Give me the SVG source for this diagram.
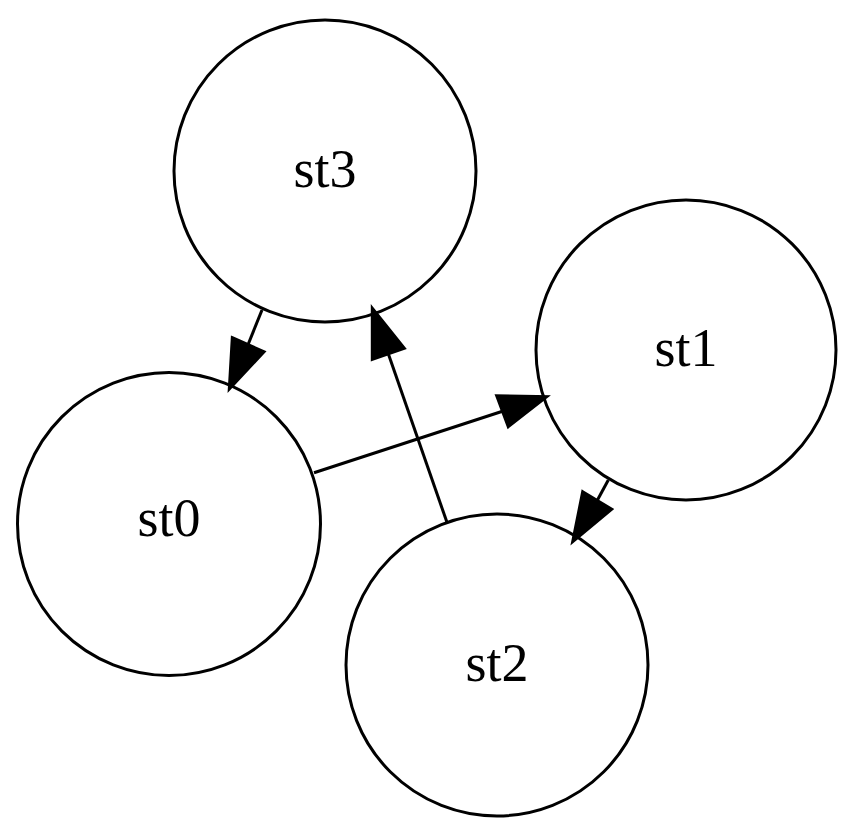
<svg xmlns="http://www.w3.org/2000/svg" width="858" height="838" viewBox="0 0 858 838">
  <style>
    .node circle { fill: none; stroke: #000; stroke-width: 3; }
    .node text { font-family: "Liberation Serif", "Times New Roman", serif; font-size: 54px; text-anchor: middle; fill: #000; }
    .edge line { stroke: #000; stroke-width: 3; }
    .edge polygon { fill: #000; stroke: #000; stroke-width: 3; }
  </style>
  <rect width="858" height="838" fill="#fff"/>

  <g id="edges">
    <!-- st3 -> st0 -->
    <g class="edge" id="e_st3_st0">
      <line x1="262" y1="310" x2="248" y2="344.7"/>
      <polygon points="232.3,337.7 264,351.7 229.3,389"/>
    </g>
    <!-- st0 -> st1 -->
    <g class="edge" id="e_st0_st1">
      <line x1="314" y1="472.7" x2="502.5" y2="411.2"/>
      <polygon points="496.7,395.7 508.3,426.7 546.7,396.7"/>
    </g>
    <!-- st2 -> st3 -->
    <g class="edge" id="e_st2_st3">
      <line x1="447.3" y1="523.3" x2="388.3" y2="353.8"/>
      <polygon points="372.3,359.3 404.3,348.3 372.3,308.3"/>
    </g>
    <!-- st1 -> st2 -->
    <g class="edge" id="e_st1_st2">
      <line x1="608.3" y1="480" x2="597.2" y2="500.5"/>
      <polygon points="582.7,491.7 611.7,509.3 572.7,541.7"/>
    </g>
  </g>

  <g class="node" id="st3">
    <circle cx="325" cy="171" r="151"/>
    <text x="325" y="187">st3</text>
  </g>
  <g class="node" id="st1">
    <circle cx="686" cy="350" r="150"/>
    <text x="686" y="366">st1</text>
  </g>
  <g class="node" id="st0">
    <circle cx="169" cy="524" r="151.5"/>
    <text x="169" y="536">st0</text>
  </g>
  <g class="node" id="st2">
    <circle cx="497" cy="665" r="151"/>
    <text x="497" y="681">st2</text>
  </g>
</svg>
